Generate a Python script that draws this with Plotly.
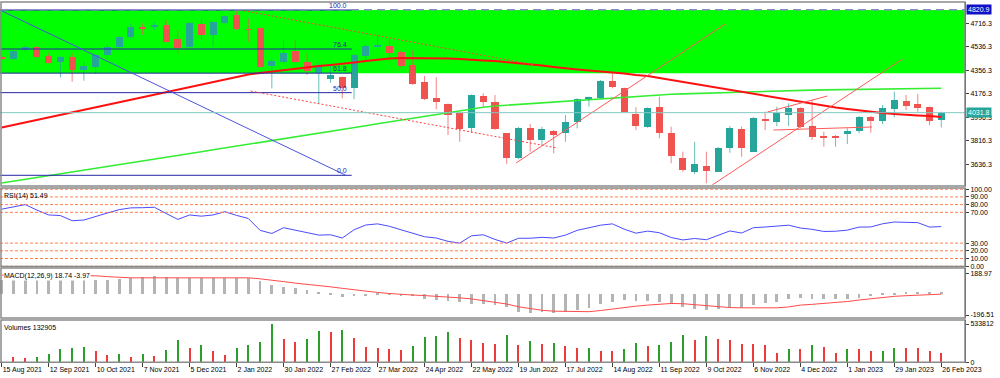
import plotly.graph_objects as go

# ---------------- data (weekly candles, 15 Aug 2021 .. 26 Feb 2023) ----------------
opens = [4460.5, 4441.0, 4511.8, 4532.5, 4468.1, 4422.2, 4455.9, 4358.6, 4383.9, 4473.5,
         4537.1, 4609.1, 4680.3, 4685.7, 4703.3, 4593.8, 4537.1, 4711.0, 4626.7, 4720.9,
         4779.9, 4672.7, 4678.0, 4391.5, 4422.2, 4506.4, 4419.9, 4337.9, 4289.7, 4302.7,
         4218.4, 4465.8, 4540.1, 4542.4, 4498.8, 4396.9, 4269.0, 4146.4, 4098.2, 4026.9,
         3912.0, 4161.7, 4115.8, 3873.7, 3682.2, 3912.0, 3822.4, 3893.6, 3873.7, 3962.6,
         4138.8, 4141.8, 4276.6, 4218.4, 4019.3, 3924.3, 4077.5, 3873.7, 3686.8, 3579.6,
         3625.5, 3579.6, 3763.4, 3904.4, 3732.8, 3981.0, 3962.6, 4013.9, 4069.8, 3929.6,
         3847.7, 3850.7, 3868.4, 3893.6, 4000.9, 3970.3, 4059.9, 4121.1, 4098.2, 4077.5,
         3975.6]
highs = [4473.5, 4519.5, 4550.1, 4542.4, 4491.1, 4462.0, 4486.5, 4422.2, 4481.2, 4557.8,
         4619.0, 4716.3, 4716.3, 4720.9, 4741.6, 4665.0, 4722.5, 4747.0, 4730.1, 4776.1,
         4818.2, 4754.6, 4684.2, 4448.2, 4588.4, 4588.4, 4486.5, 4412.2, 4396.9, 4308.8,
         4477.3, 4557.8, 4626.7, 4593.8, 4511.8, 4511.8, 4312.6, 4302.7, 4102.0, 4029.2,
         4170.9, 4180.1, 4167.1, 3876.0, 3922.0, 3944.9, 3924.3, 3899.0, 4013.9, 4141.8,
         4154.1, 4282.0, 4333.3, 4224.6, 4072.9, 4072.9, 4154.1, 3924.3, 3732.8, 3809.4,
         3732.8, 3768.8, 3929.6, 3924.3, 3998.6, 4039.2, 4077.5, 4103.5, 4072.9, 4128.8,
         3886.0, 3860.7, 3912.0, 4006.3, 4006.3, 4090.5, 4192.4, 4167.1, 4174.8, 4079.0,
         4039.2]
lows = [4435.2, 4435.2, 4504.1, 4454.3, 4408.4, 4302.7, 4269.0, 4276.6, 4328.0, 4440.6,
        4531.0, 4596.1, 4626.7, 4670.4, 4569.3, 4491.1, 4531.0, 4593.8, 4537.1, 4714.8,
        4665.0, 4575.4, 4377.8, 4218.4, 4409.9, 4412.2, 4320.3, 4103.5, 4261.3, 4141.8,
        4134.2, 4435.2, 4511.8, 4422.2, 4371.6, 4243.7, 4128.8, 4057.6, 3860.7, 3809.4,
        3876.0, 4077.5, 3899.0, 3638.6, 3676.9, 3732.8, 3778.7, 3720.5, 3809.4, 3912.0,
        4077.5, 4140.3, 4218.4, 4036.9, 3899.0, 3916.0, 3835.4, 3643.9, 3579.6, 3562.0,
        3490.7, 3577.3, 3725.1, 3694.5, 3730.5, 3899.0, 3929.6, 3929.6, 3912.0, 3822.4,
        3771.1, 3771.1, 3791.8, 3873.7, 3878.3, 3944.9, 3996.3, 4052.2, 4039.2, 3937.3,
        3918.2]
closes = [4440.6, 4506.4, 4532.5, 4460.5, 4414.5, 4455.9, 4358.6, 4389.2, 4473.5, 4532.5,
          4609.1, 4690.3, 4674.9, 4703.3, 4575.4, 4529.4, 4716.3, 4626.7, 4726.3, 4772.2,
          4670.4, 4665.0, 4383.9, 4427.5, 4491.1, 4422.2, 4350.9, 4396.9, 4320.3, 4218.4,
          4473.5, 4542.4, 4546.3, 4486.5, 4391.5, 4251.4, 4134.2, 4115.8, 4013.9, 3904.4,
          4167.1, 4111.2, 3904.4, 3682.2, 3912.0, 3822.4, 3904.4, 3860.7, 3962.6, 4134.2,
          4144.1, 4276.6, 4226.1, 4039.2, 3932.1, 4065.2, 3878.3, 3699.8, 3592.6, 3638.6,
          3587.2, 3763.4, 3912.0, 3758.8, 3993.2, 3968.0, 4031.5, 4065.2, 3924.3, 3843.1,
          3845.4, 3845.4, 3893.6, 4000.9, 3970.3, 4065.2, 4128.8, 4082.8, 4069.8, 3970.3,
          4031.8]

ma_red = [3917.4, 3936.5, 3955.7, 3975.6, 3994.7, 4013.9, 4033.8, 4053.0, 4072.9, 4092.0,
          4111.2, 4131.1, 4150.2, 4170.2, 4189.3, 4208.5, 4228.4, 4247.5, 4267.4, 4286.6,
          4305.7, 4323.4, 4335.6, 4347.1, 4358.6, 4370.1, 4381.6, 4389.2, 4396.9, 4404.6,
          4416.0, 4427.5, 4439.0, 4446.7, 4450.5, 4450.5, 4450.5, 4450.5, 4446.7, 4442.9,
          4435.2, 4431.4, 4427.5, 4419.9, 4412.2, 4404.6, 4393.1, 4381.6, 4370.1, 4362.4,
          4354.8, 4347.1, 4343.3, 4331.8, 4320.3, 4312.6, 4297.3, 4282.0, 4266.7, 4251.4,
          4236.0, 4220.7, 4205.4, 4190.1, 4174.8, 4159.4, 4144.1, 4128.8, 4113.5, 4098.2,
          4082.8, 4071.3, 4059.9, 4048.4, 4036.9, 4029.2, 4021.6, 4013.9, 4010.1, 4006.2,
          3998.6]
ma_green = [3493.0, 3506.8, 3520.6, 3535.1, 3548.9, 3563.5, 3577.3, 3591.8, 3605.6, 3620.2,
            3634.0, 3647.8, 3662.3, 3676.1, 3690.6, 3704.4, 3719.0, 3732.8, 3747.3, 3761.1,
            3775.7, 3789.5, 3804.0, 3817.8, 3832.4, 3846.9, 3860.7, 3875.3, 3889.0, 3903.6,
            3918.1, 3931.9, 3946.5, 3961.0, 3974.8, 3989.4, 4003.2, 4017.7, 4032.3, 4046.1,
            4060.6, 4073.6, 4082.8, 4089.0, 4095.1, 4102.0, 4108.1, 4114.2, 4121.1, 4127.3,
            4133.4, 4140.3, 4146.4, 4153.3, 4159.4, 4165.6, 4168.6, 4172.5, 4175.5, 4178.6,
            4181.7, 4185.5, 4188.5, 4190.8, 4193.1, 4196.2, 4198.5, 4200.8, 4203.1, 4204.6,
            4206.2, 4207.7, 4209.2, 4210.8, 4211.5, 4213.1, 4214.6, 4215.4, 4216.9, 4217.7,
            4218.4]

rsi = [74.1, 77.3, 80.0, 72.9, 66.6, 65.8, 59.1, 60.0, 64.1, 69.1,
       73.5, 75.8, 76.0, 76.6, 68.5, 60.8, 66.6, 65.0, 66.6, 70.8,
       66.0, 62.0, 46.6, 42.5, 50.0, 46.6, 43.3, 40.4, 40.8, 36.6,
       47.3, 53.5, 55.0, 51.9, 47.3, 42.9, 38.3, 36.6, 32.3, 30.0,
       39.5, 40.8, 34.8, 30.0, 36.3, 36.3, 37.5, 36.6, 40.4, 46.6,
       49.8, 53.3, 55.0, 48.1, 42.9, 45.6, 43.5, 37.3, 34.1, 36.0,
       34.4, 40.1, 45.8, 43.1, 50.0, 50.9, 52.5, 53.3, 49.6, 47.9,
       45.1, 45.4, 46.9, 50.8, 51.0, 55.1, 57.4, 57.4, 56.6, 50.8,
       51.49]
rsi_levels = [0, 10, 20, 30, 70, 80, 90, 100]

macd_main = [125, 125, 125, 125, 125, 125, 125, 125, 125, 125,
             135, 141, 156, 163, 156, 147, 147, 147, 147, 147,
             147, 147, 116, 80, 64, 49, 33, 12, -5, -29,
             -25, -20, -10, -15, -20, -25, -45, -55, -65, -75,
             -95, -95, -105, -121, -167, -182, -167, -182, -167, -152,
             -130, -99, -75, -59, -68, -68, -75, -99, -121, -142,
             -152, -137, -130, -130, -108, -83, -75, -52, -40, -46,
             -52, -46, -46, -37, -25, -15, -8, 12, 18, 12,
             18.74]
macd_signal = [172, 172, 172, 172, 172, 172, 172, 172, 166, 158,
               150, 147, 147, 147, 147, 147, 147, 147, 147, 147,
               147, 147, 138, 128, 112, 98, 88, 76, 64, 50,
               36, 22, 12, 2, -7, -12, -17, -22, -30, -38,
               -48, -62, -76, -95, -120, -140, -153, -161, -165, -167,
               -166, -155, -140, -128, -115, -105, -97, -90, -92, -100,
               -112, -122, -128, -130, -130, -130, -130, -122, -105, -98,
               -90, -82, -72, -58, -46, -35, -24, -18, -12, -8,
               -3.97]

volumes = [None, 69700, 60000, 78000, 115700, 185400, 199300, 213300, 161700, 101700,
           115700, 78000, 115700, 92000, 171400, 315000, 195100, 237000, 153300, 101700,
           195100, 237000, 283000, 533812, 324800, 283000, 324800, 440400, 422300, 446000,
           338700, 213300, 195100, 185400, 171400, 227200, 348500, 366600, 426500, 338700,
           306600, 269000, 259300, 384700, 245300, 292700, 255100, 269000, 223000, 199300,
           205000, 161700, 153300, 185400, 269000, 223000, 245300, 278800, 376300, 306600,
           362400, 324800, 306600, 259300, 259300, 245300, 133800, 185400, 185400, 237000,
           213300, 133800, 185400, 185400, 153300, 161700, 199300, 199300, 199300, 153300,
           132905]

tick_labels = ["15 Aug 2021", "12 Sep 2021", "10 Oct 2021", "7 Nov 2021", "5 Dec 2021",
               "2 Jan 2022", "30 Jan 2022", "27 Feb 2022", "27 Mar 2022", "24 Apr 2022",
               "22 May 2022", "19 Jun 2022", "17 Jul 2022", "14 Aug 2022", "11 Sep 2022",
               "9 Oct 2022", "6 Nov 2022", "4 Dec 2022", "1 Jan 2023", "29 Jan 2023",
               "26 Feb 2023"]
price_ticks = [3636.3, 3816.3, 3996.3, 4176.3, 4356.3, 4536.3, 4716.3]

# Fibonacci retracement (price extremes) and levels
fib_high = 4818.2
fib_low = 3552.0
fib_levels = [0.0, 50.0, 61.8, 76.4, 100.0]
fib_end = 29.8          # week index where the fib lines end
fib_diag = [(-0.15, 4818.2), (29.3, 3552.0)]
max_price = 4820.9
last_price = 4031.8

# user trend lines (week index, price)
dotted_lines = [[(20.3, 4818.2), (45.4, 4396.9)],
                [(21.2, 4197.7), (47.3, 3761.1)]]
solid_lines = [[(43.8, 3646.2), (61.6, 4711.0)],
               [(60.5, 3477.7), (76.7, 4442.9)],
               [(65.2, 4036.9), (70.3, 4159.4)],
               [(65.7, 3899.0), (74.1, 3922.0)]]

# ---------------- figure ----------------
n = len(closes)
idx = list(range(n))
BULL = "#26a69a"
BEAR = "#ef5350"
FONT = "Liberation Sans"
FS = 7
H = 378.0


def dom(top_px, bot_px):
    return [1 - bot_px / H, 1 - top_px / H]


fig = go.Figure()

fib_price = {lv: fib_low + (fib_high - fib_low) * lv / 100.0 for lv in fib_levels}

# green zone between the 61.8 and 100 levels (full width)
fig.add_shape(type="rect", xref="x domain", yref="y", x0=0, x1=1,
              y0=fib_price[61.8], y1=fib_price[100.0],
              fillcolor="#00ff00", line_width=0, layer="below")

# slow moving average
fig.add_trace(go.Scatter(x=idx, y=ma_green, mode="lines",
                         line=dict(color="#33ee33", width=1.6), yaxis="y", hoverinfo="skip"))

# candle wicks
wxb, wy_bull, wx_bear, wy_bear = [], [], [], []
for i in idx:
    if closes[i] >= opens[i]:
        wxb += [i, i, None]
        wy_bull += [lows[i], highs[i], None]
    else:
        wx_bear += [i, i, None]
        wy_bear += [lows[i], highs[i], None]
fig.add_trace(go.Scatter(x=wxb, y=wy_bull, mode="lines", line=dict(color=BULL, width=1),
                         yaxis="y", hoverinfo="skip", opacity=0.7))
fig.add_trace(go.Scatter(x=wx_bear, y=wy_bear, mode="lines", line=dict(color=BEAR, width=1),
                         yaxis="y", hoverinfo="skip", opacity=0.7))

# candle bodies
bases, heights, cols = [], [], []
for i in idx:
    lo = min(opens[i], closes[i])
    hi = max(opens[i], closes[i])
    h = max(hi - lo, 7.0)
    bases.append((lo + hi) / 2 - h / 2)
    heights.append(h)
    cols.append(BULL if closes[i] >= opens[i] else BEAR)
fig.add_trace(go.Bar(x=idx, y=heights, base=bases, width=0.6, marker_color=cols,
                     marker_line_width=0, yaxis="y", hoverinfo="skip"))

# fast moving average
fig.add_trace(go.Scatter(x=idx, y=ma_red, mode="lines",
                         line=dict(color="#ff1010", width=2), yaxis="y", hoverinfo="skip"))

# fibonacci lines and labels
for lv in fib_levels:
    p = fib_price[lv]
    fig.add_trace(go.Scatter(x=[-0.15, fib_end], y=[p, p], mode="lines",
                             line=dict(color="#2626a8", width=1), yaxis="y", hoverinfo="skip"))
    fig.add_annotation(x=fib_end - 0.2, y=p, xref="x", yref="y", text=f"{lv:.1f}",
                       showarrow=False, xanchor="right", yanchor="bottom", yshift=-1,
                       font=dict(family=FONT, size=FS, color="#2626a8"))
fig.add_trace(go.Scatter(x=[fib_diag[0][0], fib_diag[1][0]], y=[fib_diag[0][1], fib_diag[1][1]],
                         mode="lines", line=dict(color="#5050e0", width=1), yaxis="y", hoverinfo="skip"))

# horizontal max and last price lines
fig.add_shape(type="line", xref="x domain", yref="y", x0=0, x1=1, y0=max_price, y1=max_price,
              line=dict(color="#8c8cc8", width=1.5, dash="8px,5px"))
fig.add_shape(type="line", xref="x domain", yref="y", x0=0, x1=1, y0=last_price, y1=last_price,
              line=dict(color="#7fc9c0", width=1))

# trend lines
for seg in dotted_lines:
    fig.add_trace(go.Scatter(x=[seg[0][0], seg[1][0]], y=[seg[0][1], seg[1][1]], mode="lines",
                             line=dict(color="#ff4040", width=1, dash="2px,2px"),
                             yaxis="y", hoverinfo="skip"))
for seg in solid_lines:
    fig.add_trace(go.Scatter(x=[seg[0][0], seg[1][0]], y=[seg[0][1], seg[1][1]], mode="lines",
                             line=dict(color="#ff5a5a", width=1), yaxis="y", hoverinfo="skip"))

# RSI panel
for lv in rsi_levels:
    fig.add_shape(type="line", xref="x domain", yref="y2", x0=0, x1=1, y0=lv, y1=lv,
                  line=dict(color="#ff7f50", width=1, dash="3px,2px"))
fig.add_trace(go.Scatter(x=idx, y=rsi, mode="lines", line=dict(color="#4a4aff", width=1),
                         yaxis="y2", hoverinfo="skip"))

# MACD panel
fig.add_trace(go.Bar(x=idx, y=macd_main, width=0.24, marker_color="#b4b4b4",
                     marker_line_width=0, yaxis="y3", hoverinfo="skip"))
fig.add_trace(go.Scatter(x=idx, y=macd_signal, mode="lines", line=dict(color="#ff4a4a", width=1),
                         yaxis="y3", hoverinfo="skip"))

# Volume panel: green when volume rises versus the previous week, red otherwise
vcols = []
for i in idx:
    prev = volumes[i - 1] if i > 0 else None
    up = prev is not None and volumes[i] is not None and volumes[i] > prev
    vcols.append("#2aa02a" if up else "#ee3a3a")
fig.add_trace(go.Bar(x=idx, y=volumes, width=0.085, marker_color=vcols,
                     marker_line_width=0, yaxis="y4", hoverinfo="skip"))

# ---------------- layout ----------------
xr = [-0.145, 82.02]
axis_font = dict(family=FONT, size=FS, color="black")
common_y = dict(side="right", anchor="x", showgrid=False, zeroline=False, showline=True,
                linecolor="#404040", linewidth=1, ticks="outside", ticklen=3,
                tickcolor="#404040", tickfont=axis_font, fixedrange=True)

fig.update_layout(
    width=1000, height=378, autosize=False,
    margin=dict(l=0, r=0, t=0, b=0, autoexpand=False),
    paper_bgcolor="white", plot_bgcolor="white",
    showlegend=False, barmode="overlay", bargap=0,
    xaxis=dict(domain=[0, 0.965], range=xr, anchor="y4", showgrid=False, zeroline=False,
               showline=True, linecolor="#404040", ticks="outside", ticklen=4,
               tickcolor="#404040", tickvals=list(range(0, n, 4)), ticktext=tick_labels,
               ticklabelposition="outside right", tickfont=axis_font, tickangle=0,
               fixedrange=True),
    yaxis=dict(domain=dom(2, 186), range=[3470.0, 4879.5], tickvals=price_ticks,
               ticktext=[f"{v:.1f}" for v in price_ticks], **common_y),
    yaxis2=dict(domain=dom(188, 266.5), range=[-0.4, 101.6], tickvals=rsi_levels,
                ticktext=[f"{v:.2f}" for v in rsi_levels], **common_y),
    yaxis3=dict(domain=dom(268, 318), range=[-224.2, 237.9], tickvals=[-196.51, 188.97],
                ticktext=["-196.51", "188.97"], **common_y),
    yaxis4=dict(domain=dom(320, 362.3), range=[0, 589600], tickvals=[0, 533812],
                ticktext=["0", "533812"], **common_y),
)

# panel frames
for (t, b) in [(2, 186), (188, 266.5), (268, 318), (320, 362.3)]:
    d = dom(t, b)
    fig.add_shape(type="rect", xref="paper", yref="paper", x0=0.001, x1=0.965,
                  y0=d[0], y1=d[1], line=dict(color="#8a8a8a", width=1.5), fillcolor="rgba(0,0,0,0)")

# price boxes on the axis
fig.add_annotation(x=0.966, xref="paper", y=max_price, yref="y", text=f"{max_price:.1f}",
                   showarrow=False, xanchor="left", yanchor="middle", bgcolor="#1010c8",
                   font=dict(family=FONT, size=FS, color="white"), borderpad=1)
fig.add_annotation(x=0.966, xref="paper", y=last_price, yref="y", text=f"{last_price:.1f}",
                   showarrow=False, xanchor="left", yanchor="middle", bgcolor=BULL,
                   font=dict(family=FONT, size=FS, color="white"), borderpad=1)

# panel titles
titles = [(dom(188, 266.5)[1], f"RSI(14) {rsi[-1]:.2f}", None),
          (dom(268, 318)[1], f"MACD(12,26,9) {macd_main[-1]:.2f} {macd_signal[-1]:.2f}", "white"),
          (dom(320, 362.3)[1], f"Volumes {volumes[-1]}", None)]
for y, txt, bg in titles:
    fig.add_annotation(x=0.003, xref="paper", y=y - 3 / H, yref="paper", text=txt,
                       showarrow=False, xanchor="left", yanchor="top",
                       bgcolor=bg if bg else "rgba(0,0,0,0)", borderpad=0,
                       font=dict(family=FONT, size=FS, color="black"))

fig.write_html(
    "out.html",
    config={"displayModeBar": False},
    post_script=("document.documentElement.style.margin='0';"
                 "document.documentElement.style.overflow='hidden';"
                 "document.body.style.margin='0';document.body.style.overflow='hidden';"),
)
